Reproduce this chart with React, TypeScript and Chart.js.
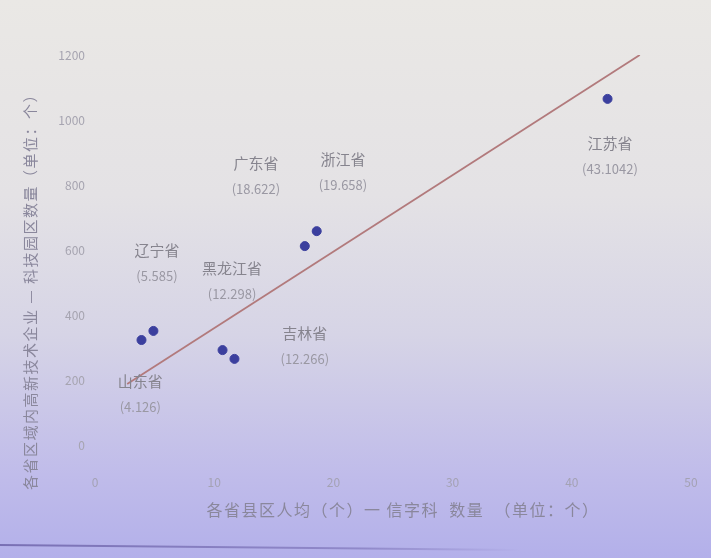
import React, { useEffect, useRef } from "react";
import { Chart, registerables } from "chart.js";

Chart.register(...registerables);

// ---- data ----
const provinces = ["山东省", "辽宁省", "黑龙江省", "吉林省", "广东省", "浙江省", "江苏省"];
const valueLabels = ["(4.126)", "(5.585)", "(12.298)", "(12.266)", "(18.622)", "(19.658)", "(43.1042)"];
const xValues = [3.9, 4.9, 10.7, 11.7, 17.6, 18.6, 43.0];
const yValues = [323, 351, 292, 265, 612, 658, 1065];
// label anchor positions (data units)
const labelX = [3.8, 5.2, 11.5, 17.6, 13.5, 20.8, 43.2];
const labelY = [197, 600, 545, 345, 868, 880, 929];
// trend line end points
const trendX = [2.7, 45.7];
const trendY = [188, 1200];
const xTicks = [0, 10, 20, 30, 40, 50];
const yTicks = [0, 200, 400, 600, 800, 1000, 1200];

const xTitle = "各省县区人均（个）一 信字科  数量  （单位：个）";
const yTitle = "各省区域内高新技术企业 — 科技园区数量（单位：个）";

const FONT = "'Noto Sans CJK SC', 'Noto Sans', sans-serif";

const bgPlugin = {
  id: "bg",
  beforeDraw(chart: any) {
    const { ctx, width, height } = chart;
    ctx.save();
    const g = ctx.createLinearGradient(0, 0, 0, height);
    g.addColorStop(0, "#eae8e5");
    g.addColorStop(0.35, "#e4e2e5");
    g.addColorStop(0.6, "#d6d4e6");
    g.addColorStop(0.85, "#c0bcea");
    g.addColorStop(1, "#b3b0ea");
    ctx.fillStyle = g;
    ctx.fillRect(0, 0, width, height);
    const lg = ctx.createLinearGradient(0, 0, 520, 0);
    lg.addColorStop(0, "rgba(110,100,170,0.85)");
    lg.addColorStop(0.7, "rgba(120,110,180,0.6)");
    lg.addColorStop(1, "rgba(120,110,180,0)");
    ctx.strokeStyle = lg;
    ctx.lineWidth = 2;
    ctx.beginPath();
    ctx.moveTo(0, 545);
    ctx.lineTo(520, 550);
    ctx.stroke();
    ctx.restore();
  },
};

const titlePlugin = {
  id: "axisTitles",
  afterDraw(chart: any) {
    const { ctx, chartArea } = chart;
    ctx.save();
    ctx.fillStyle = "#8a879c";
    ctx.textAlign = "center";
    ctx.textBaseline = "middle";
    ctx.font = `16px ${FONT}`;
    (ctx as any).letterSpacing = "1.5px";
    ctx.fillText(xTitle, 403, 510);
    ctx.translate(30, 288);
    ctx.rotate(-Math.PI / 2);
    ctx.font = `15px ${FONT}`;
    (ctx as any).letterSpacing = "1.5px";
    ctx.fillText(yTitle, 0, 0);
    ctx.restore();
  },
};

const labelPlugin = {
  id: "pointLabels",
  afterDatasetsDraw(chart: any) {
    const { ctx, scales } = chart;
    ctx.save();
    ctx.textAlign = "center";
    ctx.textBaseline = "middle";
    provinces.forEach((name, i) => {
      const px = scales.x.getPixelForValue(labelX[i]);
      const py = scales.y.getPixelForValue(labelY[i]);
      ctx.fillStyle = "#86848e";
      ctx.font = `15px ${FONT}`;
      ctx.fillText(name, px, py);
      ctx.fillStyle = "#9a98a3";
      ctx.font = `13px ${FONT}`;
      ctx.fillText(valueLabels[i], px, py + 26);
    });
    ctx.restore();
  },
};

export default function App() {
  const ref = useRef<HTMLCanvasElement>(null);
  useEffect(() => {
    if (!ref.current) return;
    const chart = new Chart(ref.current, {
      type: "scatter",
      data: {
        datasets: [
          {
            type: "line",
            data: trendX.map((x, i) => ({ x, y: trendY[i] })),
            borderColor: "#b27a7c",
            borderWidth: 1.8,
            pointRadius: 0,
            fill: false,
          } as any,
          {
            type: "scatter",
            data: xValues.map((x, i) => ({ x, y: yValues[i] })),
            backgroundColor: "#3b3f9e",
            borderColor: "#3b3f9e",
            pointRadius: 4.5,
          },
        ],
      },
      options: {
        responsive: false,
        animation: false,
        layout: { padding: { left: 0, top: 55, right: 20, bottom: 0 } },
        plugins: { legend: { display: false }, tooltip: { enabled: false } },
        scales: {
          x: {
            type: "linear",
            min: 0,
            max: 50,
            afterBuildTicks: (s: any) => {
              s.ticks = xTicks.map((v) => ({ value: v }));
            },
            afterFit: (s: any) => {
              s.height = 113;
              s.paddingLeft = 0;
              s.paddingRight = 0;
            },
            grid: { display: false, drawTicks: false },
            border: { display: false },
            ticks: {
              padding: 30,
              color: "#a4a2b4",
              font: { size: 12, family: FONT },
              callback: (v: any) => String(v),
            },
          },
          y: {
            type: "linear",
            min: 0,
            max: 1200,
            afterBuildTicks: (s: any) => {
              s.ticks = yTicks.map((v) => ({ value: v }));
            },
            afterFit: (s: any) => {
              s.width = 95;
            },
            grid: { display: false, drawTicks: false },
            border: { display: false },
            ticks: {
              padding: 10,
              color: "#a6a4b0",
              font: { size: 12, family: FONT },
              callback: (v: any) => String(v),
            },
          },
        },
      },
      plugins: [bgPlugin, labelPlugin, titlePlugin],
    });
    return () => chart.destroy();
  }, []);
  return (
    <div style={{ position: "absolute", left: 0, top: 0, width: 711, height: 558 }}>
      <canvas ref={ref} width={711} height={558} style={{ display: "block" }} />
    </div>
  );
}
